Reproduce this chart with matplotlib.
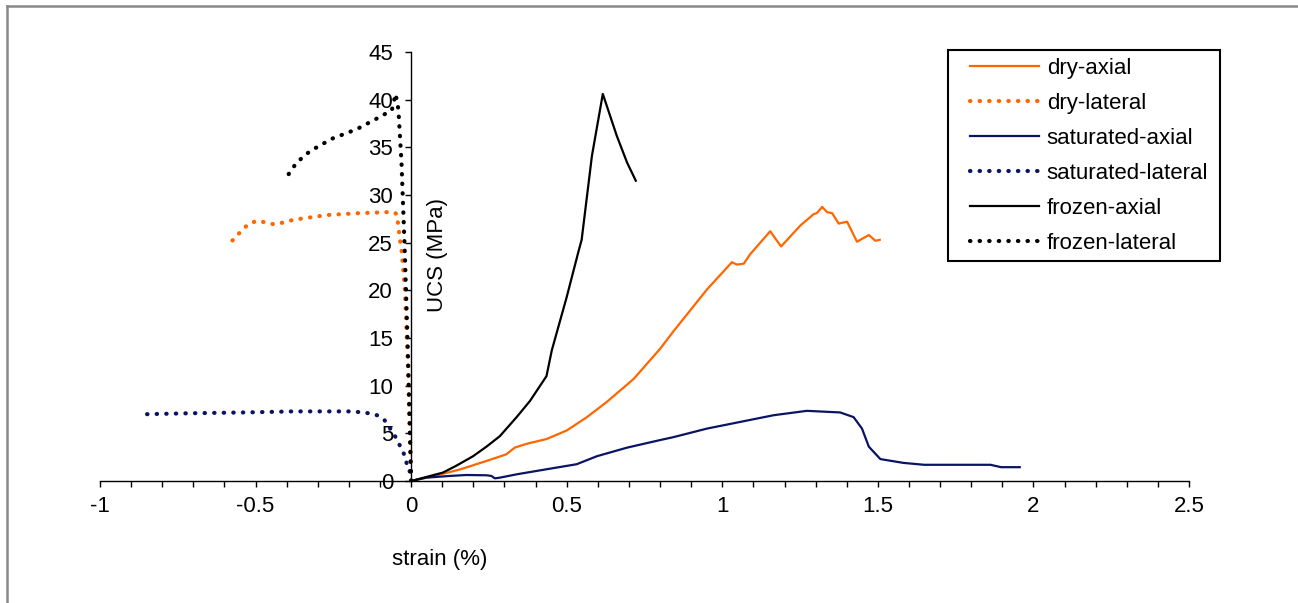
import numpy as np
import matplotlib
matplotlib.use('Agg')
from matplotlib import pyplot as plt
from matplotlib.lines import Line2D
from matplotlib.patches import Rectangle

plt.rcParams['font.family'] = ['Liberation Sans', 'DejaVu Sans']

# curves (strain %, UCS MPa)
dry_ax_x = [0, 0.07, 0.156, 0.242, 0.306, 0.333, 0.371, 0.435, 0.5, 0.565, 0.629, 0.715, 0.801,
            0.843, 0.951, 1.031, 1.047, 1.069, 1.09, 1.154, 1.189, 1.251, 1.294, 1.304, 1.321,
            1.337, 1.353, 1.374, 1.401, 1.433, 1.471, 1.492, 1.506]
dry_ax_y = [0, 0.5, 1.2, 2.1, 2.8, 3.5, 3.9, 4.4, 5.3, 6.7, 8.3, 10.7, 13.9,
            15.7, 20.1, 22.95, 22.7, 22.8, 23.8, 26.2, 24.6, 26.8, 28.0, 28.1, 28.75,
            28.2, 28.1, 27.0, 27.2, 25.1, 25.8, 25.2, 25.3]

dry_lat_x = [0, -0.004, -0.01, -0.02, -0.03, -0.036, -0.042, -0.047, -0.055, -0.078, -0.164,
             -0.271, -0.378, -0.437, -0.494, -0.521, -0.541, -0.578]
dry_lat_y = [0, 5, 12, 20, 24.0, 25.3, 27.0, 28.0, 28.2, 28.2, 28.1,
             27.9, 27.4, 26.9, 27.3, 27.0, 26.4, 25.1]

sat_ax_x = [0, 0.048, 0.124, 0.177, 0.242, 0.258, 0.269, 0.285, 0.339, 0.435, 0.532, 0.597,
            0.694, 0.801, 0.843, 0.951, 1.058, 1.165, 1.272, 1.379, 1.422, 1.449, 1.471,
            1.508, 1.582, 1.649, 1.862, 1.896, 1.956]
sat_ax_y = [0, 0.35, 0.53, 0.63, 0.6, 0.53, 0.28, 0.35, 0.7, 1.23, 1.76, 2.6,
            3.5, 4.3, 4.6, 5.5, 6.2, 6.9, 7.36, 7.19, 6.7, 5.5, 3.6,
            2.3, 1.9, 1.7, 1.7, 1.45, 1.45]

sat_lat_x = [0, -0.003, -0.007, -0.014, -0.021, -0.035, -0.041, -0.057, -0.087, -0.11, -0.134,
             -0.187, -0.254, -0.378, -0.521, -0.721, -0.861]
sat_lat_y = [0, 0.6, 1.6, 1.8, 2.7, 3.6, 4.1, 5.0, 6.45, 6.9, 7.1,
             7.3, 7.3, 7.3, 7.2, 7.1, 7.0]

frz_ax_x = [0, 0.102, 0.145, 0.199, 0.242, 0.285, 0.339, 0.382, 0.435, 0.452, 0.5, 0.538,
            0.548, 0.581, 0.616, 0.661, 0.694, 0.722]
frz_ax_y = [0, 0.88, 1.6, 2.6, 3.6, 4.7, 6.7, 8.4, 11.0, 13.7, 19.3, 24.1,
            25.3, 34.1, 40.6, 36.2, 33.4, 31.5]

frz_lat_x = [0, -0.004, -0.011, -0.021, -0.031, -0.041, -0.05, -0.062, -0.1, -0.175, -0.255,
             -0.325, -0.368, -0.402]
frz_lat_y = [0, 5, 14.1, 24.6, 33.4, 39.0, 40.6, 38.9, 38.2, 36.9, 35.9,
             34.6, 33.4, 31.8]

labels = ['dry-axial', 'dry-lateral', 'saturated-axial', 'saturated-lateral',
          'frozen-axial', 'frozen-lateral']

orange = '#ff6600'
navy = '#0a1464'
dots = (0, (0.1, 2.2))
fs = 16

fig = plt.figure(figsize=(12.98, 6.03), dpi=100)
ax = fig.add_axes([100/1298, 1-481/603, (1189-100)/1298, (481-52)/603])

lines = []
lines += ax.plot(dry_ax_x, dry_ax_y, color=orange, lw=1.6)
lines += ax.plot(dry_lat_x, dry_lat_y, color=orange, lw=3.0, linestyle=dots, dash_capstyle='round')
lines += ax.plot(sat_ax_x, sat_ax_y, color=navy, lw=1.6)
lines += ax.plot(sat_lat_x, sat_lat_y, color=navy, lw=3.0, linestyle=dots, dash_capstyle='round')
lines += ax.plot(frz_ax_x, frz_ax_y, color='k', lw=1.6)
lines += ax.plot(frz_lat_x, frz_lat_y, color='k', lw=3.0, linestyle=dots, dash_capstyle='round')

ax.set_xlim(-1, 2.5)
ax.set_ylim(0, 45)
ax.spines['left'].set_position(('data', 0))
ax.spines['right'].set_visible(False)
ax.spines['top'].set_visible(False)
ax.spines['left'].set_linewidth(1.0)
ax.spines['bottom'].set_linewidth(1.0)
ax.set_xticks(np.arange(-1, 2.51, 0.5))
ax.set_xticklabels(['-1', '-0.5', '0', '0.5', '1', '1.5', '2', '2.5'])
ax.set_xticks(np.arange(-1, 2.51, 0.1), minor=True)
ax.set_yticks(np.arange(0, 46, 5))
ax.tick_params(axis='x', which='both', direction='out', length=4, width=1, pad=7, labelsize=fs)
ax.tick_params(axis='y', direction='out', length=4, width=1, pad=9, labelsize=fs)
ax.patch.set_visible(False)

ax.text(0.084, 23.7, 'UCS (MPa)', rotation=90, fontsize=fs, ha='center', va='center')
fig.text(440/1298, 1-560/603, 'strain (%)', fontsize=fs, ha='center', va='center')

# legend drawn without frame, box added by hand
leg = fig.legend(lines, labels, loc='upper left', frameon=False,
                 bbox_to_anchor=(970/1298, 1-58/603), borderpad=0, borderaxespad=0,
                 fontsize=fs, handlelength=3.1, handletextpad=0.35, labelspacing=0.63)
fig.add_artist(Rectangle((948/1298, 1-261/603), (1220-948)/1298, (261-50)/603,
                         transform=fig.transFigure, fill=False, ec='k', lw=1.5))

# outer border (top and left only)
fig.add_artist(Line2D([7/1298, 7/1298], [0, 1-6/603], transform=fig.transFigure, color='#888888', lw=1.8))
fig.add_artist(Line2D([7/1298, 1], [1-6/603, 1-6/603], transform=fig.transFigure, color='#888888', lw=1.8))

fig.savefig('out.png', dpi=100)
